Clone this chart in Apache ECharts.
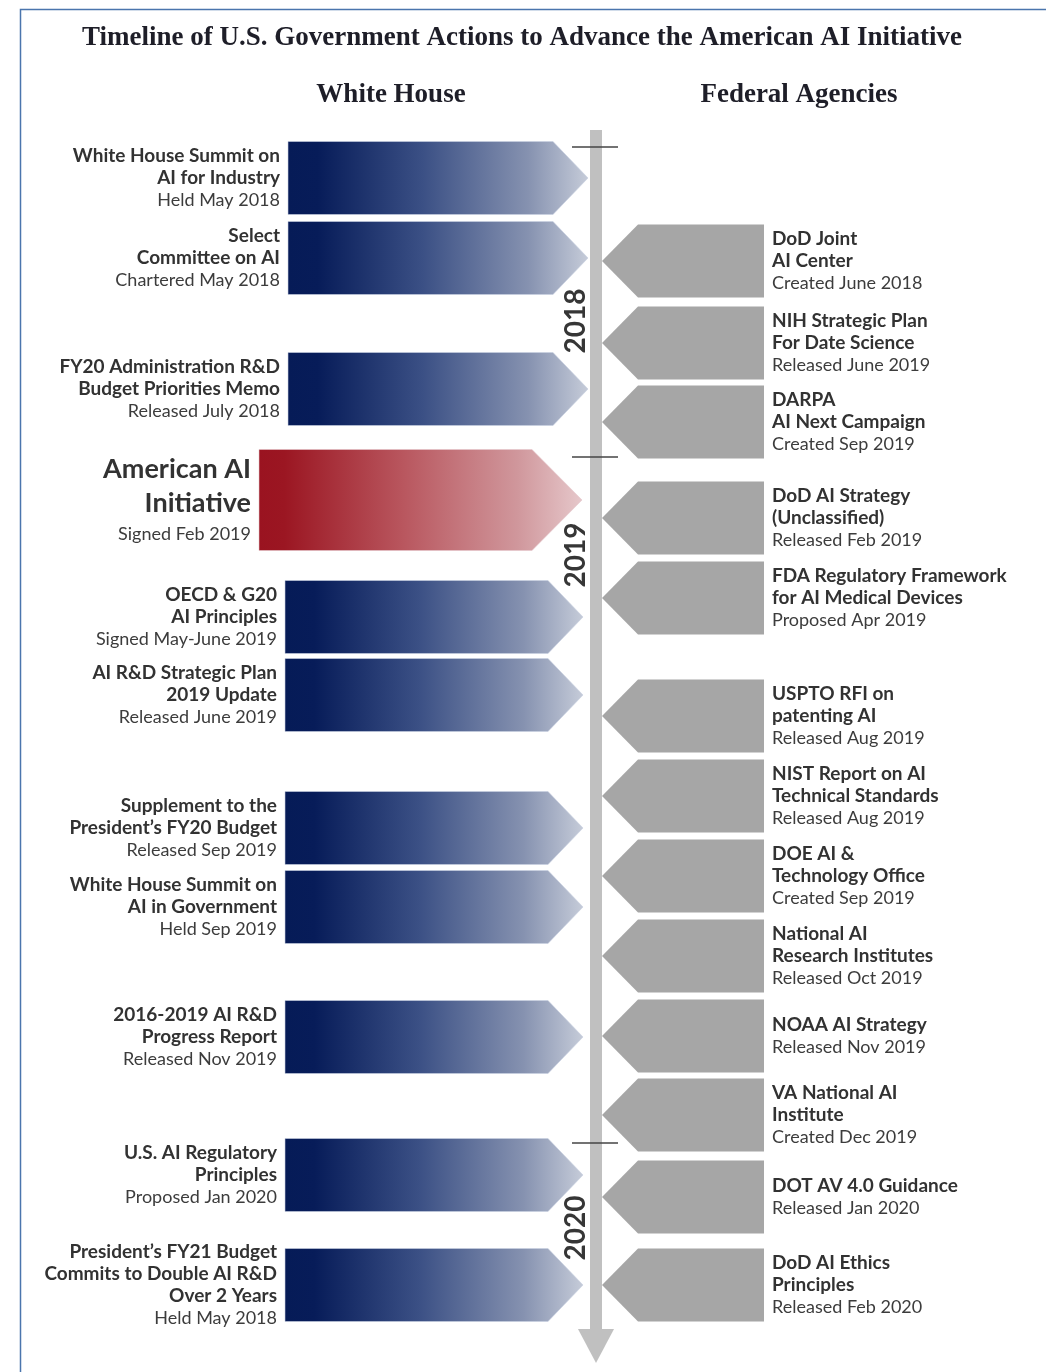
<!DOCTYPE html>
<html>
<head>
<meta charset="utf-8">
<script src="https://cdn.jsdelivr.net/npm/echarts@6/dist/echarts.min.js"></script>
<style>
html,body{margin:0;padding:0;background:#fff;}
#chart{width:1046px;height:1372px;}
</style>
</head>
<body>
<div id="chart"></div>
<script>
// ---------- DATA ----------
const chartTitle = 'Timeline of U.S. Government Actions to Advance the American AI Initiative';
const columnHeaders = ['White House', 'Federal Agencies'];

// White House actions (left column): heading lines, date line, position on timeline
const whTitles = [
  ['White House Summit on', 'AI for Industry'],
  ['Select', 'Committee on AI'],
  ['FY20 Administration R&D', 'Budget Priorities Memo'],
  ['American AI', 'Initiative'],
  ['OECD & G20', 'AI Principles'],
  ['AI R&D Strategic Plan', '2019 Update'],
  ['Supplement to the', 'President\u2019s FY20 Budget'],
  ['White House Summit on', 'AI in Government'],
  ['2016-2019 AI R&D', 'Progress Report'],
  ['U.S. AI Regulatory', 'Principles'],
  ['President\u2019s FY21 Budget', 'Commits to Double AI R&D', 'Over 2 Years']
];
const whDates = [
  'Held May 2018', 'Chartered May 2018', 'Released July 2018', 'Signed Feb 2019',
  'Signed May-June 2019', 'Released June 2019', 'Released Sep 2019', 'Held Sep 2019',
  'Released Nov 2019', 'Proposed Jan 2020', 'Held May 2018'
];
const whPositions = [178, 258, 389, 500, 617, 695, 828, 907, 1037, 1175, 1285];
const whHighlight = [false, false, false, true, false, false, false, false, false, false, false];

// Federal agency actions (right column)
const fdTitles = [
  ['DoD Joint', 'AI Center'],
  ['NIH Strategic Plan', 'For Date Science'],
  ['DARPA', 'AI Next Campaign'],
  ['DoD AI Strategy', '(Unclassified)'],
  ['FDA Regulatory Framework', 'for AI Medical Devices'],
  ['USPTO RFI on', 'patenting AI'],
  ['NIST Report on AI', 'Technical Standards'],
  ['DOE AI &', 'Technology Office'],
  ['National AI', 'Research Institutes'],
  ['NOAA AI Strategy'],
  ['VA National AI', 'Institute'],
  ['DOT AV 4.0 Guidance'],
  ['DoD AI Ethics', 'Principles']
];
const fdDates = [
  'Created June 2018', 'Released June 2019', 'Created Sep 2019', 'Released Feb 2019',
  'Proposed Apr 2019', 'Released Aug 2019', 'Released Aug 2019', 'Created Sep 2019',
  'Released Oct 2019', 'Released Nov 2019', 'Created Dec 2019', 'Released Jan 2020',
  'Released Feb 2020'
];
const fdPositions = [261, 343, 422, 518, 598, 716, 796, 876, 956, 1036, 1115, 1197, 1285];

// Years on the timeline
const yearLabels = ['2018', '2019', '2020'];
const yearTickPositions = [147, 457, 1143];
const yearLabelPositions = [321, 555, 1228];
const timelineSpan = [130, 1363];

// ---------- LAYOUT / STYLE ----------
const FONT = 'Lato, "Open Sans", sans-serif';
const SERIF = '"Liberation Serif", "DejaVu Serif", serif';
const BOLD_COLOR = '#323232';
const REG_COLOR = '#3c3c3c';
const AXIS_X = 596;

function blueGrad() {
  return new echarts.graphic.LinearGradient(0, 0, 1, 0, [
    {offset: 0, color: '#061b57'}, {offset: 0.1, color: '#071c59'},
    {offset: 0.45, color: '#3b5085'}, {offset: 0.8, color: '#8692b0'},
    {offset: 1, color: '#c6ccd9'}
  ]);
}
function redGrad() {
  return new echarts.graphic.LinearGradient(0, 0, 1, 0, [
    {offset: 0, color: '#9a1320'}, {offset: 0.08, color: '#9b1622'},
    {offset: 0.45, color: '#b9575f'}, {offset: 0.8, color: '#d0979c'},
    {offset: 1, color: '#e6c8cb'}
  ]);
}

const richStyles = {
  b: {fontFamily: FONT, fontWeight: 'bold', fontSize: 19, lineHeight: 22, fill: BOLD_COLOR},
  r: {fontFamily: FONT, fontWeight: 'normal', fontSize: 18, lineHeight: 22, fill: REG_COLOR},
  big: {fontFamily: FONT, fontWeight: 'bold', fontSize: 27, lineHeight: 34, fill: BOLD_COLOR},
  rbig: {fontFamily: FONT, fontWeight: 'normal', fontSize: 18, lineHeight: 28, fill: REG_COLOR}
};

function richText(lines, date, big) {
  const t = lines.map(l => '{' + (big ? 'big' : 'b') + '|' + l + '}');
  t.push('{' + (big ? 'rbig' : 'r') + '|' + date + '}');
  return t.join('\n');
}

// ---------- RENDERERS ----------
function renderTimeline(params, api) {
  const top = api.coord([AXIS_X, api.value(0)]);
  const bot = api.coord([AXIS_X, api.value(1)]);
  const headH = 34, headW = 18, barW = 6;
  return {
    type: 'group',
    children: [
      {type: 'rect', shape: {x: top[0] - barW, y: top[1], width: barW * 2, height: bot[1] - headH - top[1]},
       style: {fill: '#c0c0c0'}},
      {type: 'polygon', shape: {points: [[bot[0] - headW, bot[1] - headH], [bot[0] + headW, bot[1] - headH], [bot[0], bot[1]]]},
       style: {fill: '#c0c0c0'}}
    ]
  };
}

function renderYear(params, api) {
  const i = params.dataIndex;
  const tickL = api.coord([572, api.value(0)]);
  const tickR = api.coord([618, api.value(0)]);
  const lab = api.coord([576, api.value(1)]);
  return {
    type: 'group',
    children: [
      {type: 'line', shape: {x1: tickL[0], y1: tickL[1], x2: tickR[0], y2: tickR[1]},
       style: {stroke: '#444', lineWidth: 1.5}},
      {type: 'text', x: lab[0], y: lab[1], rotation: Math.PI / 2,
       style: {text: yearLabels[i], fill: '#363636', font: 'bold 28px ' + FONT,
               align: 'center', verticalAlign: 'middle'}}
    ]
  };
}

function renderWH(params, api) {
  const i = params.dataIndex;
  const y = api.value(1);
  const hi = whHighlight[i];
  const early = i < 3;
  const h = hi ? 101 : 73;
  const L = hi ? 259 : (early ? 288 : 285);
  const S = hi ? 532 : (early ? 553 : 548);
  const T = hi ? 582 : (early ? 588 : 583);
  const p = (x, yy) => api.coord([x, yy]);
  const yt = y - h / 2, yb = y + h / 2;
  const pts = [p(L, yt), p(S, yt), p(T, y), p(S, yb), p(L, yb)];
  const tp = p(L - 8, y);
  return {
    type: 'group',
    children: [
      {type: 'polygon', shape: {points: pts},
       style: {fill: hi ? redGrad() : blueGrad(), stroke: hi ? 'rgba(230,200,205,0.6)' : 'rgba(200,208,225,0.6)', lineWidth: 1}},
      {type: 'text', x: tp[0], y: tp[1],
       style: {text: richText(whTitles[i], whDates[i], hi), rich: richStyles,
               align: 'right', verticalAlign: 'middle'}}
    ]
  };
}

function renderFD(params, api) {
  const i = params.dataIndex;
  const y = api.value(1);
  const h = 73;
  const T = 602, S = 638, R = 764;
  const p = (x, yy) => api.coord([x, yy]);
  const yt = y - h / 2, yb = y + h / 2;
  const pts = [p(T, y), p(S, yt), p(R, yt), p(R, yb), p(S, yb)];
  const tp = p(772, y);
  return {
    type: 'group',
    children: [
      {type: 'polygon', shape: {points: pts}, style: {fill: '#a6a6a6'}},
      {type: 'text', x: tp[0], y: tp[1],
       style: {text: richText(fdTitles[i], fdDates[i], false), rich: richStyles,
               align: 'left', verticalAlign: 'middle'}}
    ]
  };
}

// ---------- CHART ----------
const chart = echarts.init(document.getElementById('chart'), null, {renderer: 'canvas'});
chart.setOption({
  animation: false,
  backgroundColor: '#ffffff',
  grid: {left: 0, right: 0, top: 0, bottom: 0},
  xAxis: {type: 'value', min: 0, max: 1046, show: false},
  yAxis: {type: 'value', min: 0, max: 1372, inverse: true, show: false},
  graphic: [
    {type: 'rect', left: 18, top: 7, z: 0,
     shape: {x: 0, y: 0, width: 1100, height: 1420},
     style: {fill: 'none', stroke: '#4a75ad', lineWidth: 1.5}},
    {type: 'text', x: 522, y: 38, z: 10,
     style: {text: chartTitle, font: 'bold 27px ' + SERIF, fill: '#1e1e28', align: 'center', verticalAlign: 'middle'}},
    {type: 'text', x: 391, y: 95, z: 10,
     style: {text: columnHeaders[0], font: 'bold 27px ' + SERIF, fill: '#1e1e28', align: 'center', verticalAlign: 'middle'}},
    {type: 'text', x: 799, y: 95, z: 10,
     style: {text: columnHeaders[1], font: 'bold 27px ' + SERIF, fill: '#1e1e28', align: 'center', verticalAlign: 'middle'}}
  ],
  series: [
    {type: 'custom', renderItem: renderTimeline, data: [timelineSpan], z: 1, silent: true},
    {type: 'custom', renderItem: renderWH, data: whPositions.map((v, i) => [i, v]), z: 2, silent: true},
    {type: 'custom', renderItem: renderFD, data: fdPositions.map((v, i) => [i, v]), z: 2, silent: true},
    {type: 'custom', renderItem: renderYear,
     data: yearTickPositions.map((v, i) => [v, yearLabelPositions[i]]), z: 3, silent: true}
  ]
});
</script>
</body>
</html>
